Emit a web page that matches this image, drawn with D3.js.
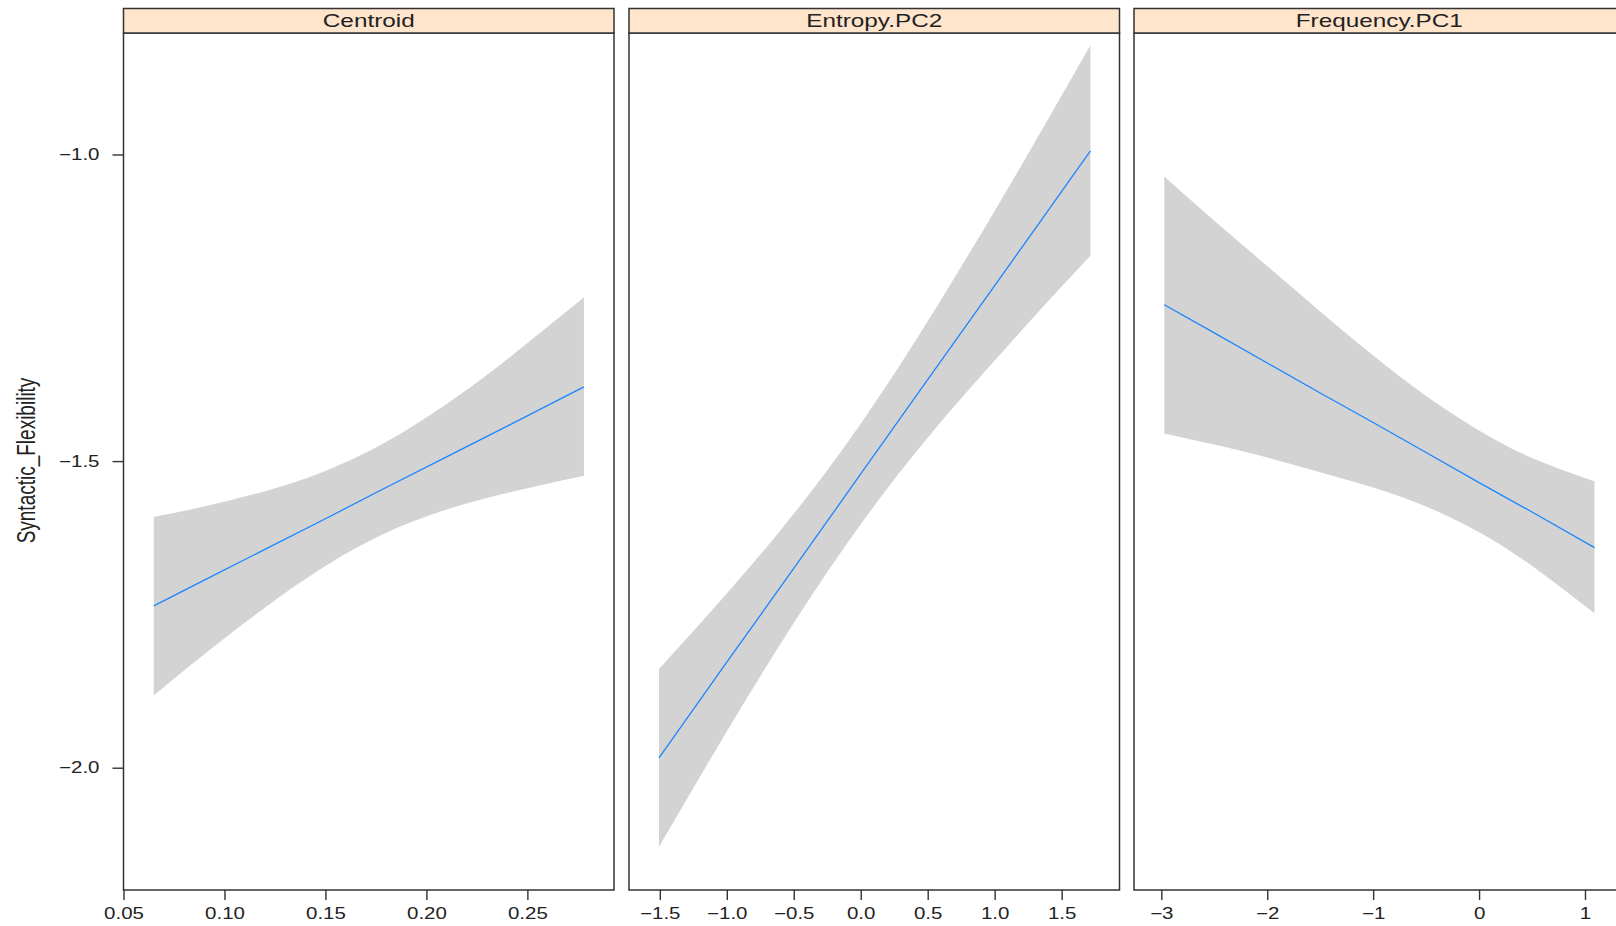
<!DOCTYPE html>
<meta charset="utf-8">
<head>
  <title>Syntactic_Flexibility effects</title>
  <style>
    body { margin: 0; background: #fff; }
    svg { display: block; }
    text { font-family: "Liberation Sans", Arial, sans-serif; fill: #222; }
  </style>
</head>

<svg id="chart" width="1616" height="926"></svg>

<script src="https://d3js.org/d3.v7.min.js"></script>
<script>
// ---- data ----
var panelNames = ["Centroid", "Entropy.PC2", "Frequency.PC1"]
var yLabel = "Syntactic_Flexibility"
var yTicks = [-2.0, -1.5, -1.0]
var yLimits = [-2.1994, -0.8019]

var centroidX     = [0.065, 0.09, 0.12, 0.15, 0.18, 0.21, 0.24, 0.278]
var centroidFit   = [-1.736, -1.694, -1.644, -1.594, -1.543, -1.493, -1.443, -1.379]
var centroidLower = [-1.882, -1.815, -1.739, -1.671, -1.617, -1.579, -1.552, -1.524]
var centroidUpper = [-1.591, -1.574, -1.549, -1.516, -1.469, -1.407, -1.334, -1.233]
var centroidTicks = [0.05, 0.10, 0.15, 0.20, 0.25]
var centroidLimits = [0.05, 0.2929]

var entropyX     = [-1.506, -1.0, -0.5, 0.0, 0.5, 1.0, 1.4, 1.715]
var entropyFit   = [-1.984, -1.828, -1.675, -1.521, -1.367, -1.214, -1.091, -0.994]
var entropyLower = [-2.129, -1.941, -1.764, -1.603, -1.462, -1.336, -1.239, -1.165]
var entropyUpper = [-1.839, -1.716, -1.586, -1.439, -1.272, -1.092, -0.942, -0.822]
var entropyTicks = [-1.5, -1.0, -0.5, 0.0, 0.5, 1.0, 1.5]
var entropyLimits = [-1.730, 1.932]

var freqX     = [-2.972, -2.5, -2.0, -1.5, -1.0, -0.5, 0.0, 0.5, 1.09]
var freqFit   = [-1.245, -1.291, -1.340, -1.389, -1.437, -1.486, -1.535, -1.583, -1.641]
var freqLower = [-1.455, -1.473, -1.494, -1.518, -1.543, -1.574, -1.616, -1.671, -1.748]
var freqUpper = [-1.036, -1.108, -1.182, -1.256, -1.328, -1.394, -1.450, -1.495, -1.533]
var freqTicks = [-3, -2, -1, 0, 1]
var freqLimits = [-3.258, 1.373]

// ---- layout ----
var panelLeft = [123.5, 629, 1134]
var panelWidth = 490.5
var stripTop = 8.5, panelTop = 33, panelBottom = 890
var sx = 1.28   // text in the original is stretched sideways
var bandColor = "#d3d3d3", lineColor = "#1a86ff", frameColor = "#333"

var svg = d3.select("#chart")

var y = d3.scaleLinear().domain(yLimits).range([panelBottom, panelTop])

function zip(xs, fit, lo, hi) {
  return xs.map((d, i) => ({x: d, fit: fit[i], lo: lo[i], hi: hi[i]}))
}

var panels = [
  {name: panelNames[0], data: zip(centroidX, centroidFit, centroidLower, centroidUpper),
   ticks: centroidTicks, limits: centroidLimits, fmt: d3.format(".2f")},
  {name: panelNames[1], data: zip(entropyX, entropyFit, entropyLower, entropyUpper),
   ticks: entropyTicks, limits: entropyLimits, fmt: d3.format(".1f")},
  {name: panelNames[2], data: zip(freqX, freqFit, freqLower, freqUpper),
   ticks: freqTicks, limits: freqLimits, fmt: d3.format("d")}
]

panels.forEach(function(p, i) {
  var x0 = panelLeft[i]
  var x = d3.scaleLinear().domain(p.limits).range([x0, x0 + panelWidth])
  var g = svg.append("g").attr("class", "panel")

  // confidence band
  var band = d3.area()
    .x(d => x(d.x))
    .y0(d => y(d.lo))
    .y1(d => y(d.hi))
    .curve(d3.curveNatural)
  g.append("path").datum(p.data)
    .attr("d", band)
    .attr("fill", bandColor)

  // fitted line
  var line = d3.line().x(d => x(d.x)).y(d => y(d.fit))
  g.append("path").datum(p.data)
    .attr("d", line)
    .attr("fill", "none")
    .attr("stroke", lineColor)
    .attr("stroke-width", 1.3)

  // panel frame
  g.append("rect")
    .attr("x", x0).attr("y", panelTop)
    .attr("width", panelWidth).attr("height", panelBottom - panelTop)
    .attr("fill", "none").attr("stroke", frameColor).attr("stroke-width", 1.5)

  // strip
  g.append("rect")
    .attr("x", x0).attr("y", stripTop)
    .attr("width", panelWidth).attr("height", panelTop - stripTop)
    .attr("fill", "#ffe5cc").attr("stroke", frameColor).attr("stroke-width", 1.5)
  g.append("text")
    .attr("transform", `translate(${x0 + panelWidth / 2},27) scale(${sx},1)`)
    .attr("text-anchor", "middle")
    .style("font-size", "19px")
    .text(p.name)

  // x axis
  var ax = g.append("g")
    .attr("transform", `translate(0,${panelBottom})`)
    .call(d3.axisBottom(x).tickValues(p.ticks).tickFormat(p.fmt)
      .tickSize(10).tickPadding(8))
    .attr("font-family", null).attr("font-size", null)
  ax.select(".domain").remove()
  ax.selectAll("line").attr("stroke", frameColor).attr("stroke-width", 1.4)
  ax.selectAll("text")
    .attr("transform", `scale(${sx},1)`)
    .style("font-size", "16px")
})

// y axis on the first panel only
var ay = svg.append("g")
  .attr("transform", `translate(${panelLeft[0]},0)`)
  .call(d3.axisLeft(y).tickValues(yTicks).tickFormat(d3.format(".1f")).tickSize(11))
  .attr("font-family", null).attr("font-size", null)
ay.select(".domain").remove()
ay.selectAll("line").attr("stroke", frameColor).attr("stroke-width", 1.4)
ay.selectAll("text")
  .attr("x", 0)
  .attr("transform", `translate(-24,0) scale(${sx},1)`)
  .style("font-size", "16px")

svg.append("text")
  .attr("transform", `translate(35,460.5) scale(1.4,1) rotate(-90)`)
  .attr("text-anchor", "middle")
  .style("font-size", "19px")
  .text(yLabel)
</script>
